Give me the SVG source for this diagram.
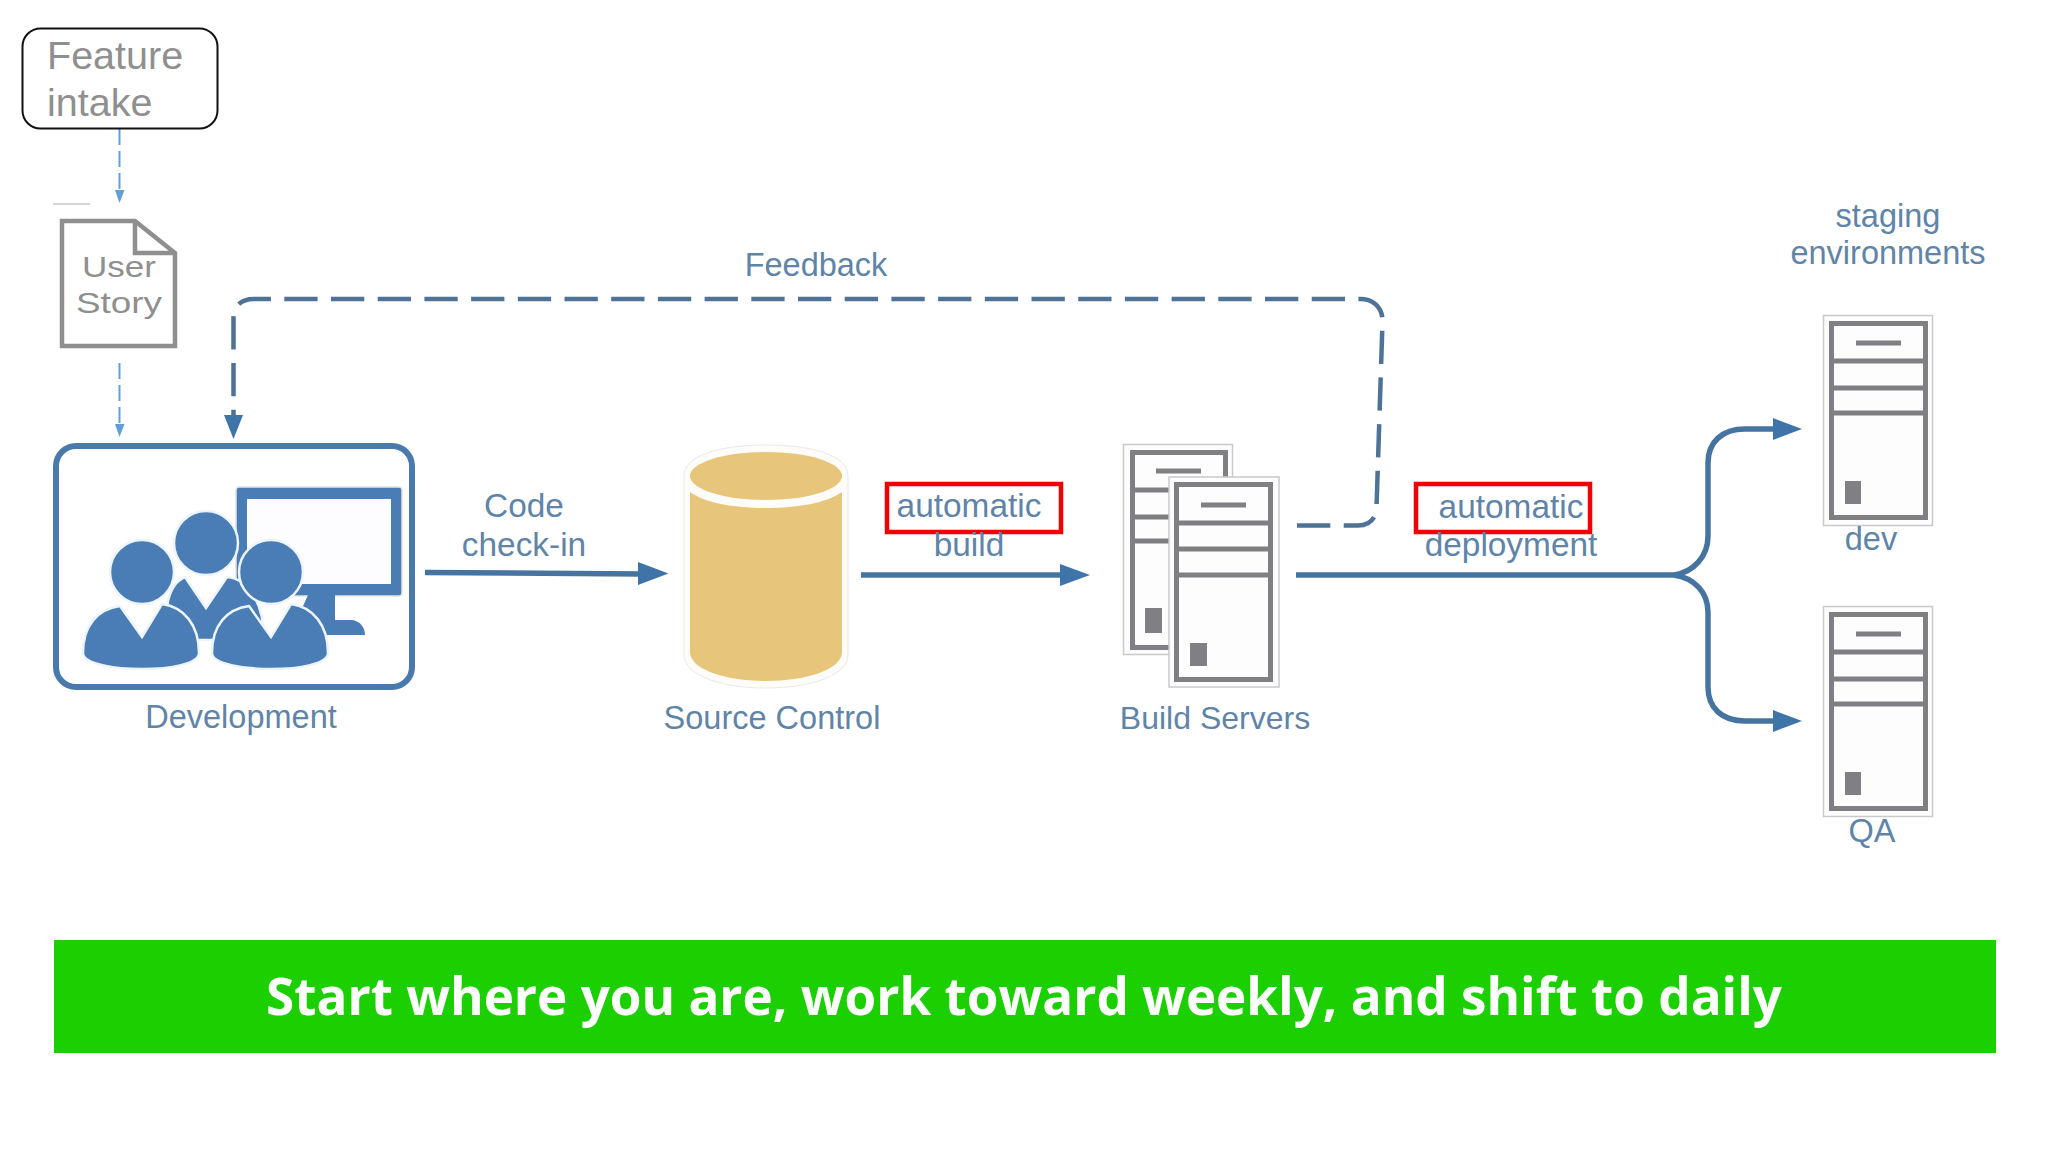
<svg xmlns="http://www.w3.org/2000/svg" width="2048" height="1152" viewBox="0 0 2048 1152">
<style>
text{font-family:"Liberation Sans",Arial,sans-serif}
.lb{font-size:32.5px;fill:#5f84a8;text-anchor:middle}
.lm{font-size:33.4px}
.gt{font-size:39.5px;fill:#8f8f8f}
.gs{font-size:30px;fill:#8f8f8f}
.hl{fill:#fdfdfd;stroke:#c9c9cc;stroke-width:1.5}
.sv{fill:#fdfdfd;stroke:#808084;stroke-width:5}
.ln{fill:none;stroke:#808084;stroke-width:5}
.sq{fill:#808084}
.red{fill:none;stroke:#f00006;stroke-width:4.5}
.flow{fill:none;stroke:#44749f;stroke-width:5.5}
.dash{fill:none;stroke:#4f7397;stroke-width:4.5;stroke-dasharray:33.3 13.4}
.head{fill:#3f74a8}
.blue{fill:#4a7db5}
.hp{fill:#4a7db5;stroke:#eef5fa;stroke-width:2.5}
.thin{fill:none;stroke:#629fd8;stroke-width:2;stroke-dasharray:16 6}
</style>
<defs>
<g id="server">
<rect class="hl" x="1823.5" y="315.5" width="109" height="210"/>
<rect class="sv" x="1831.5" y="323.5" width="94" height="194"/>
<path class="ln" d="M1856,343H1901M1831,361H1926M1831,388H1926M1831,413H1926"/>
<rect class="sq" x="1845" y="481" width="16" height="23"/>
</g>
</defs>
<rect width="2048" height="1152" fill="#fff"/>

<g id="connectors">
<path class="thin" d="M119.5,129V192"/>
<path d="M115,190H124.5L119.5,203Z" fill="#629fd8"/>
<path class="thin" d="M119.5,363V426"/>
<path d="M115,424H124.5L119.5,437Z" fill="#629fd8"/>
<path d="M53,204H90" stroke="#c8c8c8" stroke-width="1.5" fill="none"/>
<path class="dash" d="M1297,525.5H1358C1369,525.5 1376,519 1376.5,508L1382.5,322C1383,308 1374,299 1360,299H254C241,299 233.5,306 233.5,318V420"/>
<path class="head" d="M224,415H243L233.5,439Z"/>
<path class="flow" d="M425,572.5L642,574"/>
<path class="head" d="M638,562L668.5,573.5L638,585Z"/>
<path class="flow" d="M861,575H1064"/>
<path class="head" d="M1060,564L1090,575L1060,586Z"/>
<path class="flow" d="M1296,575H1674C1694,572 1708,556 1708,536V463C1708,442 1722,429 1745,429H1776M1674,575C1694,578 1708,592 1708,612V687C1708,708 1722,721 1745,721H1776"/>
<path class="head" d="M1773,418L1802,429L1773,440ZM1773,710L1802,721L1773,732Z"/>
</g>

<g id="feature-intake">
<rect x="22.5" y="28.5" width="195" height="100" rx="18" fill="#fff" stroke="#111" stroke-width="2"/>
<text class="gt" x="47" y="69">Feature</text>
<text class="gt" x="47" y="116">intake</text>
</g>

<g id="user-story">
<path d="M62,221H135L175,253V346H62Z" fill="#fff" stroke="#8f8f8f" stroke-width="4.5"/>
<path d="M135,221V253H175" fill="none" stroke="#8f8f8f" stroke-width="4.5"/>
<text class="gs" x="82" y="277" textLength="74" lengthAdjust="spacingAndGlyphs">User</text>
<text class="gs" x="76" y="313" textLength="86" lengthAdjust="spacingAndGlyphs">Story</text>
</g>

<g id="development">
<rect x="56" y="446" width="356" height="241" rx="20" fill="#fff" stroke="#4a7aab" stroke-width="6"/>
<rect x="236" y="487" width="166" height="109" rx="3" fill="#4a7db5" stroke="#e4e4e4" stroke-width="1.5"/>
<rect x="247" y="499" width="144" height="85" fill="#fdfdff"/>
<path class="blue" d="M308,595H335V620H352C360,621 365,627 365,635H290Z"/>
<path class="hp" d="M185,577L206,608L227,577C247,579 264,600 264,640H168C163,610 168,584 185,577Z"/>
<circle class="hp" cx="206" cy="543" r="32"/>
<path class="hp" d="M120,606L142,637L162,604C184,607 199,625 199,653C199,664 170,669 142,669C115,669 83,664 83,653C83,625 98,609 120,606Z"/>
<circle class="hp" cx="142" cy="572" r="32"/>
<path class="hp" d="M249,606L271,637L291,604C313,607 328,625 328,653C328,664 299,669 271,669C244,669 212,664 212,653C212,625 227,609 249,606Z"/>
<circle class="hp" cx="271" cy="572" r="32"/>
<text class="lb" x="241" y="728">Development</text>
</g>

<g id="code-check-in">
<text class="lb lm" x="524" y="517">Code</text>
<text class="lb lm" x="524" y="556">check-in</text>
</g>

<g id="source-control">
<path d="M684,476C684,455 720,445 766,445C812,445 848,455 848,476V655C848,675 812,688 766,688C720,688 684,675 684,655Z" fill="#fdfcf8" stroke="#e9e9e9" stroke-width="1"/>
<path d="M690,492C705,503 735,508 766,508C797,508 827,503 842,492V652C842,670 805,681 766,681C727,681 690,670 690,652Z" fill="#e7c67c"/>
<ellipse cx="766" cy="476" rx="76" ry="24" fill="#e7c67c"/>
<text class="lb" x="772" y="729">Source Control</text>
</g>

<g id="automatic-build">
<rect class="red" x="887" y="484" width="174" height="48"/>
<text class="lb lm" x="969" y="517">automatic</text>
<text class="lb lm" x="969" y="556">build</text>
</g>

<g id="build-servers">
<rect class="hl" x="1123.5" y="444.5" width="109" height="210"/>
<rect class="sv" x="1132.5" y="452.5" width="93" height="195"/>
<path class="ln" d="M1156,471H1201M1132,490H1226M1132,517H1226M1132,541H1226"/>
<rect class="sq" x="1145" y="608" width="17" height="25"/>
<rect x="1169" y="477" width="110" height="210" fill="#fdfdfd" stroke="#c9c9cc" stroke-width="1.5"/>
<rect class="sv" x="1176.5" y="484.5" width="94" height="195"/>
<path class="ln" d="M1201,505H1246M1176,523H1271M1176,549H1271M1176,575H1271"/>
<rect class="sq" x="1190" y="643" width="17" height="23"/>
<text class="lb" style="font-size:32px" x="1215" y="729">Build Servers</text>
</g>

<g id="automatic-deployment">
<rect class="red" x="1416" y="484" width="174" height="48"/>
<text class="lb lm" x="1511" y="518">automatic</text>
<text class="lb lm" x="1511" y="556">deployment</text>
</g>

<g id="feedback-label"><text class="lb" x="816" y="276">Feedback</text></g>
<g id="staging-label">
<text class="lb" x="1888" y="227">staging</text>
<text class="lb" x="1888" y="264">environments</text>
</g>

<g id="dev">
<use href="#server"/>
<text class="lb" x="1871" y="550">dev</text>
</g>
<g id="qa">
<use href="#server" y="291"/>
<text class="lb" x="1872" y="842">QA</text>
</g>

<g id="banner">
<rect x="54" y="940" width="1942" height="113" fill="#1ccf00"/>
<text x="1024" y="1015" text-anchor="middle" font-size="51.2" font-weight="700" fill="#fff" style="font-family:'Open Sans',sans-serif">Start where you are, work toward weekly, and shift to daily</text>
</g>
</svg>
